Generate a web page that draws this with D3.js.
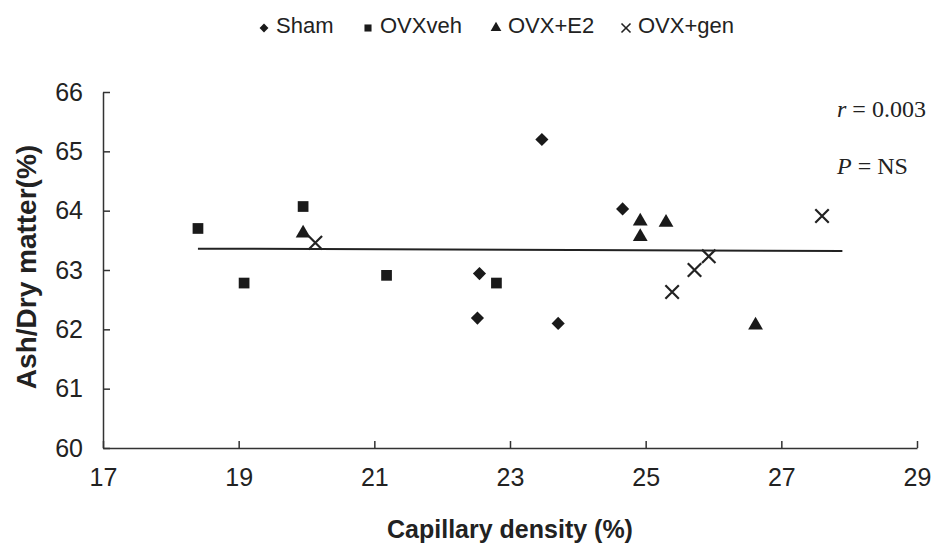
<!DOCTYPE html>
<html>
<head>
<meta charset="utf-8">
<script src="https://cdn.jsdelivr.net/npm/d3@7.9.0/dist/d3.min.js"></script>
<style>
  body { margin: 0; background: #fff; }
  svg { display: block; }
  .axis path, .axis line { stroke: #333; stroke-width: 1.5; }
  .axis text { font-family: "Liberation Sans", Arial, sans-serif; font-size: 25px; fill: #222; }
  .title { font-family: "Liberation Sans", Arial, sans-serif; font-weight: bold; fill: #222; }
  .legend text { font-family: "Liberation Sans", Arial, sans-serif; font-size: 22px; fill: #222; }
  .stat { font-family: "Liberation Serif", "Times New Roman", serif; font-size: 24px; fill: #222; }
</style>
</head>
<body>
<div id="chart"></div>
<script>
const width = 937;
const height = 551;

// groups and their points (capillary density %, ash/dry matter %)
const groups = ['Sham', 'OVXveh', 'OVX+E2', 'OVX+gen'];
const shamX = [23.47, 22.55, 22.52, 23.71, 24.66];
const shamY = [65.20, 62.94, 62.19, 62.10, 64.03];
const vehX = [18.40, 19.08, 19.95, 21.18, 22.80];
const vehY = [63.70, 62.78, 64.07, 62.91, 62.78];
const e2X = [19.95, 24.92, 24.92, 25.30, 26.62];
const e2Y = [63.62, 63.82, 63.56, 63.80, 62.07];
const genX = [20.13, 25.39, 25.72, 25.93, 27.60];
const genY = [63.46, 62.63, 63.00, 63.23, 63.91];

// fitted line ends
const trendX = [18.4, 27.9];
const trendY = [63.36, 63.32];

const xTicks = [17, 19, 21, 23, 25, 27, 29];
const yTicks = [60, 61, 62, 63, 64, 65, 66];

const x = d3.scaleLinear().domain([17, 29]).range([103, 917]);
const y = d3.scaleLinear().domain([60, 66]).range([448, 92]);

const svg = d3.select('#chart').append('svg')
  .attr('width', width)
  .attr('height', height);

svg.append('g')
  .attr('class', 'axis')
  .attr('transform', `translate(0,${y(60)})`)
  .call(d3.axisBottom(x).tickValues(xTicks).tickFormat(d3.format('d'))
    .tickSizeInner(-7).tickSizeOuter(0).tickPadding(20))
  .call(g => g.selectAll('text').attr('dy', '0.71em'));

svg.append('g')
  .attr('class', 'axis')
  .attr('transform', `translate(${x(17)},0)`)
  .call(d3.axisLeft(y).tickValues(yTicks).tickFormat(d3.format('d'))
    .tickSizeInner(-7).tickSizeOuter(0).tickPadding(20));

svg.append('text')
  .attr('class', 'title')
  .attr('font-size', 25)
  .attr('text-anchor', 'middle')
  .attr('x', 510)
  .attr('y', 538)
  .text('Capillary density (%)');

svg.append('text')
  .attr('class', 'title')
  .attr('font-size', 28)
  .attr('text-anchor', 'middle')
  .attr('transform', 'translate(36,267) rotate(-90)')
  .text('Ash/Dry matter(%)');

// regression line
svg.append('line')
  .attr('x1', x(trendX[0])).attr('y1', y(trendY[0]))
  .attr('x2', x(trendX[1])).attr('y2', y(trendY[1]))
  .attr('stroke', '#222')
  .attr('stroke-width', 2);

const symbols = {
  'Sham': d3.symbol().type(d3.symbolDiamond2).size(110),
  'OVXveh': d3.symbol().type(d3.symbolSquare).size(115),
  'OVX+E2': d3.symbol().type(d3.symbolTriangle).size(95),
  'OVX+gen': d3.symbol().type(d3.symbolTimes).size(120)
};

const series = [
  { name: 'Sham', xs: shamX, ys: shamY },
  { name: 'OVXveh', xs: vehX, ys: vehY },
  { name: 'OVX+E2', xs: e2X, ys: e2Y },
  { name: 'OVX+gen', xs: genX, ys: genY }
];

function styleMark(sel, name) {
  if (name === 'OVX+gen') {
    sel.attr('fill', 'none').attr('stroke', '#222').attr('stroke-width', 2.2);
  } else {
    sel.attr('fill', '#1a1a1a');
  }
}

series.forEach(s => {
  const pts = s.xs.map((v, i) => [v, s.ys[i]]);
  svg.append('g').selectAll('path')
    .data(pts)
    .enter()
    .append('path')
    .attr('d', symbols[s.name])
    .attr('transform', d => `translate(${x(d[0])},${y(d[1])})`)
    .call(sel => styleMark(sel, s.name));
});

// legend
const legendSymbols = {
  'Sham': d3.symbol().type(d3.symbolDiamond2).size(50),
  'OVXveh': d3.symbol().type(d3.symbolSquare).size(50),
  'OVX+E2': d3.symbol().type(d3.symbolTriangle).size(50),
  'OVX+gen': d3.symbol().type(d3.symbolTimes).size(55)
};
const legendX = [264, 368, 496, 626];
const legend = svg.append('g').attr('class', 'legend');
groups.forEach((name, i) => {
  const g = legend.append('g').attr('transform', `translate(${legendX[i]},25)`);
  g.append('path')
    .attr('d', legendSymbols[name])
    .attr('transform', 'translate(0,3)')
    .call(sel => styleMark(sel, name))
    .attr('stroke-width', name === 'OVX+gen' ? 1.6 : null);
  g.append('text')
    .attr('x', 12)
    .attr('dy', '0.35em')
    .text(name);
});

// statistics
const stat1 = svg.append('text').attr('class', 'stat').attr('x', 837).attr('y', 117);
stat1.append('tspan').attr('font-style', 'italic').text('r');
stat1.append('tspan').text(' = 0.003');
const stat2 = svg.append('text').attr('class', 'stat').attr('x', 837).attr('y', 174);
stat2.append('tspan').attr('font-style', 'italic').text('P');
stat2.append('tspan').text(' = NS');
</script>
</body>
</html>
